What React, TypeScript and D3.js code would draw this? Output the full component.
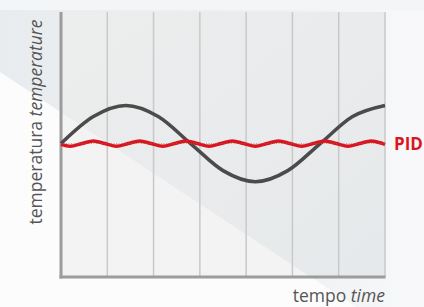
import * as React from "react";
import * as d3 from "d3";

// time in grid columns, temperature relative to the set point
const refTime = [0, 0.7, 1.4, 2.1, 2.8, 3.5, 4.2, 4.9, 5.6, 6.3, 7.0];
const refTemp = [0, 0.71, 1, 0.71, 0, -0.71, -1, -0.71, 0, 0.71, 1];

const pidTime = [
  0, 0.2, 0.45, 0.7, 0.95, 1.2, 1.45, 1.7, 1.95, 2.2, 2.45, 2.7, 2.95, 3.2, 3.45,
  3.7, 3.95, 4.2, 4.45, 4.7, 4.95, 5.2, 5.45, 5.7, 5.95, 6.2, 6.45, 6.7, 6.95, 7.0,
];
const pidTemp = [
  -0.02, -0.07, 0, 0.07, 0, -0.07, 0, 0.07, 0, -0.07, 0, 0.07, 0, -0.07, 0,
  0.07, 0, -0.07, 0, 0.07, 0, -0.07, 0, 0.07, 0, -0.07, 0, 0.07, 0, -0.02,
];

const gridTicks = [1, 2, 3, 4, 5, 6, 7];

const W = 424;
const H = 307;
const left = 61;
const right = 385;
const top = 12;
const bottom = 277;

const x = d3.scaleLinear().domain([0, 7]).range([left, right]);
const y = d3.scaleLinear().domain([-3.5, 3.45]).range([bottom, top]);

// the light diagonal that cuts across the picture
const diag = (px: number) => 72 + 0.66 * px;

export default function App() {
  const refPath = d3
    .line<number>()
    .x(d => x(d))
    .y((d, i) => y(refTemp[i]))
    .curve(d3.curveMonotoneX)(refTime);
  const pidPath = d3
    .line<number>()
    .x(d => x(d))
    .y((d, i) => y(pidTemp[i]))
    .curve(d3.curveMonotoneX)(pidTime);

  const font = "'Open Sans', 'DejaVu Sans', sans-serif";

  return (
    <div style={{ position: "absolute", left: 0, top: 0 }}>
      <svg width={W} height={H} style={{ display: "block" }}>
        <defs>
          <linearGradient id="band" x1="0" y1="0" x2="1" y2="0">
            <stop offset="0" stopColor="#e8ecef" />
            <stop offset="0.7" stopColor="#eef1f3" />
            <stop offset="1" stopColor="#f8f9fa" />
          </linearGradient>
          <linearGradient id="plotUp" x1="0" y1="0" x2="1" y2="1">
            <stop offset="0" stopColor="#eceded" />
            <stop offset="1" stopColor="#e6e9eb" />
          </linearGradient>
        </defs>

        <rect width={W} height={H} fill="#fcfcfc" />
        <polygon
          points={`0,0 ${W},0 ${W},${diag(W)} 0,${diag(0)}`}
          fill="url(#band)"
        />
        <rect width={W} height={10} fill="#f4f5f6" />
        <rect x={392} y={10} width={W - 392} height={H - 10} fill="#f7f8fa" opacity={0.8} />

        {/* plot area */}
        <rect x={left} y={top} width={right - left} height={bottom - top} fill="url(#plotUp)" />
        <polygon
          points={`${left},${diag(left)} ${(bottom - 72) / 0.66},${bottom} ${left},${bottom}`}
          fill="#f3f3f3"
        />

        {gridTicks.map(t => (
          <line
            key={t}
            x1={x(t)}
            x2={x(t)}
            y1={top}
            y2={bottom}
            stroke="#c9c9c9"
            strokeWidth={1.5}
          />
        ))}

        <line x1={left} x2={left} y1={top} y2={bottom + 1.5} stroke="#9c9c9c" strokeWidth={3} />
        <line x1={left - 1.5} x2={right + 0.5} y1={bottom} y2={bottom} stroke="#9c9c9c" strokeWidth={3} />

        <path d={refPath || ""} fill="none" stroke="#4b4b4b" strokeWidth={3.5} />
        <path d={pidPath || ""} fill="none" stroke="#d9161e" strokeWidth={3.5} />
        <line
          x1={x(0)}
          x2={x(7)}
          y1={y(0)}
          y2={y(0)}
          stroke="#9a6a6a"
          strokeWidth={0.8}
          strokeDasharray="1,1.5"
          opacity={0.7}
        />

        <text
          x={394}
          y={y(0) + 6}
          fill="#d9161e"
          fontFamily={font}
          fontWeight={700}
          fontSize={17}
        >
          PID
        </text>

        <text
          transform={`translate(42, 122) rotate(-90)`}
          textAnchor="middle"
          fill="#555"
          fontFamily={font}
          fontSize={17.5}
        >
          temperatura <tspan fontStyle="italic">temperature</tspan>
        </text>

        <text
          x={right}
          y={302}
          textAnchor="end"
          fill="#555"
          fontFamily={font}
          fontSize={17.5}
        >
          tempo <tspan fontStyle="italic">time</tspan>
        </text>
      </svg>
    </div>
  );
}
